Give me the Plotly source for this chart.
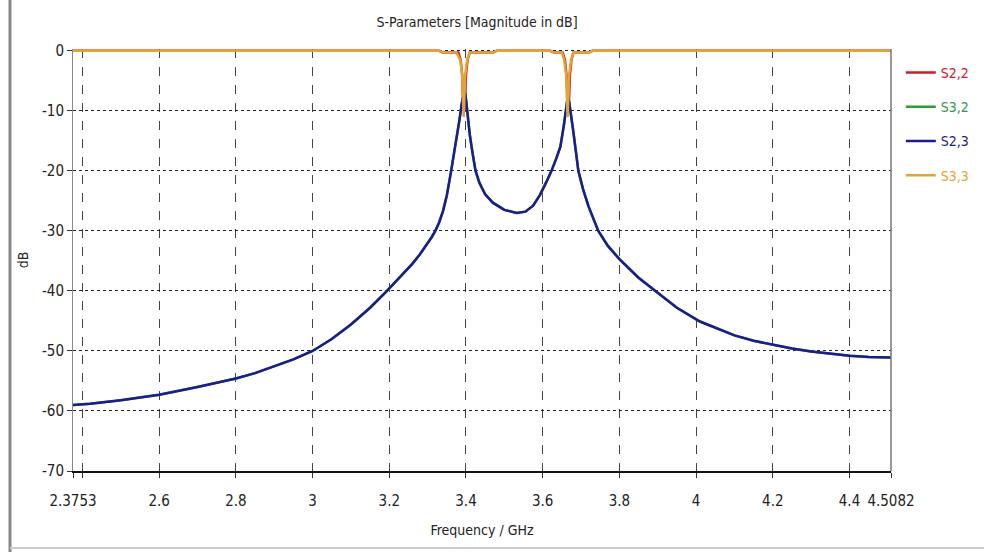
import plotly.graph_objects as go

# ---- data ----
s23_freq = [2.3753, 2.42, 2.5, 2.6, 2.7, 2.8, 2.85, 2.9, 2.95, 3.0, 3.05, 3.1, 3.15,
            3.194, 3.23, 3.26, 3.28, 3.30, 3.31, 3.32, 3.33, 3.34, 3.35, 3.36, 3.368,
            3.376, 3.383, 3.389, 3.393, 3.396, 3.399, 3.403, 3.41, 3.417, 3.425, 3.435,
            3.45, 3.47, 3.5, 3.532, 3.555, 3.575, 3.593, 3.61, 3.623, 3.635, 3.646,
            3.655, 3.661, 3.665, 3.669, 3.675, 3.68, 3.686, 3.693, 3.705, 3.72, 3.745,
            3.77, 3.8, 3.85, 3.894, 3.95, 4.01, 4.06, 4.1, 4.15, 4.2, 4.25, 4.3, 4.35,
            4.4, 4.45, 4.5082]
s23_db = [-59.0, -58.8, -58.2, -57.3, -56.0, -54.6, -53.7, -52.6, -51.4, -50.0, -48.0,
          -45.6, -42.8, -40.0, -37.6, -35.5, -33.9, -32.1, -31.1, -30.0, -28.6, -26.7,
          -24.1, -20.5, -17.5, -14.5, -11.5, -8.8, -7.2, -6.5, -7.5, -10.0, -14.0,
          -17.0, -20.0, -22.0, -23.9, -25.3, -26.5, -27.0, -26.8, -25.8, -24.0, -21.8,
          -20.0, -18.0, -16.0, -12.5, -9.5, -7.8, -8.5, -11.0, -13.5, -16.5, -20.0,
          -23.0, -26.0, -30.0, -32.5, -34.7, -37.8, -40.0, -42.8, -45.1, -46.4, -47.4,
          -48.3, -49.0, -49.6, -50.1, -50.5, -50.8, -51.0, -51.1]

s32_freq = list(s23_freq)
s32_db = list(s23_db)

s22_freq = [2.3753, 3.33, 3.34, 3.38, 3.386, 3.39, 3.393, 3.395, 3.397, 3.40, 3.404,
            3.41, 3.47, 3.48, 3.62, 3.63, 3.652, 3.658, 3.662, 3.664, 3.666, 3.668,
            3.671, 3.675, 3.68, 3.72, 3.73, 4.5082]
s22_db = [0.0, 0.0, -0.3, -0.3, -1.5, -4.0, -9.5, -10.0, -9.5, -4.0, -1.5,
          -0.3, -0.3, 0.0, 0.0, -0.3, -0.3, -1.5, -4.0, -9.5, -10.0, -9.5,
          -4.0, -1.5, -0.3, -0.3, 0.0, 0.0]

s33_freq = [2.3753, 3.33, 3.34, 3.375, 3.385, 3.39, 3.394, 3.398, 3.403, 3.41, 3.47,
            3.48, 3.62, 3.63, 3.65, 3.656, 3.661, 3.665, 3.669, 3.674, 3.68, 3.72,
            3.73, 4.5082]
s33_db = [0.0, 0.0, -0.3, -0.3, -1.5, -4.0, -11.0, -4.0, -1.5, -0.3, -0.3,
          0.0, 0.0, -0.3, -0.3, -1.5, -4.0, -11.0, -4.0, -1.5, -0.3, -0.3,
          0.0, 0.0]

x_tick_vals = [2.3753, 2.6, 2.8, 3.0, 3.2, 3.4, 3.6, 3.8, 4.0, 4.2, 4.4, 4.5082]
x_tick_text = ["2.3753", "2.6", "2.8", "3", "3.2", "3.4", "3.6", "3.8", "4", "4.2", "4.4", "4.5082"]
x_minor_grid = [2.4]
y_tick_vals = [0, -10, -20, -30, -40, -50, -60, -70]
y_tick_text = ["0", "-10", "-20", "-30", "-40", "-50", "-60", "-70"]

series = [
    ("S2,2", s22_freq, s22_db, "#c8202a"),
    ("S3,2", s32_freq, s32_db, "#2e9a3a"),
    ("S2,3", s23_freq, s23_db, "#1c1c8e"),
    ("S3,3", s33_freq, s33_db, "#e3a436"),
]

FONT = "DejaVu Sans Condensed, Liberation Sans Narrow, DejaVu Sans, sans-serif"
T, B, L, R = 49, 81, 73, 93
PH = 552 - T - B
PW = 984 - L - R

fig = go.Figure()
for i, (name, fx, fy, col) in enumerate(series):
    fig.add_trace(go.Scatter(
        x=fx, y=fy, mode="lines",
        name=f'<span style="color:{col}">{name}</span>',
        line=dict(color=col, width=2.5),
        legendgroup=f"g{i}",
    ))

fig.update_layout(
    width=984, height=552,
    margin=dict(l=L, r=R, t=T, b=B, autoexpand=False),
    paper_bgcolor="white", plot_bgcolor="white",
    font=dict(family=FONT, size=14, color="#222222"),
    title=dict(text="S-Parameters [Magnitude in dB]", x=0.4848, xanchor="center",
               y=1 - 22 / 552, yanchor="middle", font=dict(size=14, color="#222222")),
    showlegend=True,
    legend=dict(x=1.012, xanchor="left", y=1 - 8 / PH, yanchor="top",
                bgcolor="rgba(0,0,0,0)", font=dict(size=14), tracegroupgap=13,
                itemwidth=30),
)

fig.update_xaxes(
    range=[2.3753, 4.5082], tickvals=x_tick_vals, ticktext=x_tick_text,
    showgrid=True, gridcolor="#444444", griddash="dash", gridwidth=1,
    minor=dict(tickvals=x_minor_grid, showgrid=True, gridcolor="#444444",
               griddash="dash", gridwidth=1, ticks="outside", ticklen=5, tickcolor="#333"),
    showline=True, linecolor="#111111", linewidth=2, mirror=False,
    ticks="outside", ticklen=5, tickcolor="#333333", automargin=False,
    zeroline=False, tickfont=dict(size=15), ticklabelstandoff=10,
    title=dict(text="Frequency / GHz", font=dict(size=14), standoff=16),
)
fig.update_yaxes(
    range=[-70, 0.3], tickvals=y_tick_vals, ticktext=y_tick_text,
    showgrid=True, gridcolor="#222222", griddash="dot", gridwidth=1,
    showline=True, linecolor="#888888", linewidth=1, mirror=False,
    ticks="outside", ticklen=5, tickcolor="#333333", automargin=False,
    zeroline=False, tickfont=dict(size=15),
    title=dict(text="dB", font=dict(size=14), standoff=10),
)

# plot frame (right border) and the window edges of the screenshot
fig.add_shape(type="line", xref="paper", yref="paper", x0=1, x1=1, y0=0, y1=1,
              line=dict(color="#777777", width=1.5))
fig.add_shape(type="line", xref="paper", yref="paper", x0=(10 - L) / PW, x1=(10 - L) / PW,
              y0=-B / PH, y1=1 + T / PH, line=dict(color="#888888", width=3))
fig.add_shape(type="line", xref="paper", yref="paper", x0=(10 - L) / PW, x1=1 + R / PW,
              y0=-(548 - 471) / PH, y1=-(548 - 471) / PH, line=dict(color="#cccccc", width=2))

fig.write_html("out.html", config={"displayModeBar": False},
               post_script="document.body.style.margin='0';document.body.style.overflow='hidden';")
